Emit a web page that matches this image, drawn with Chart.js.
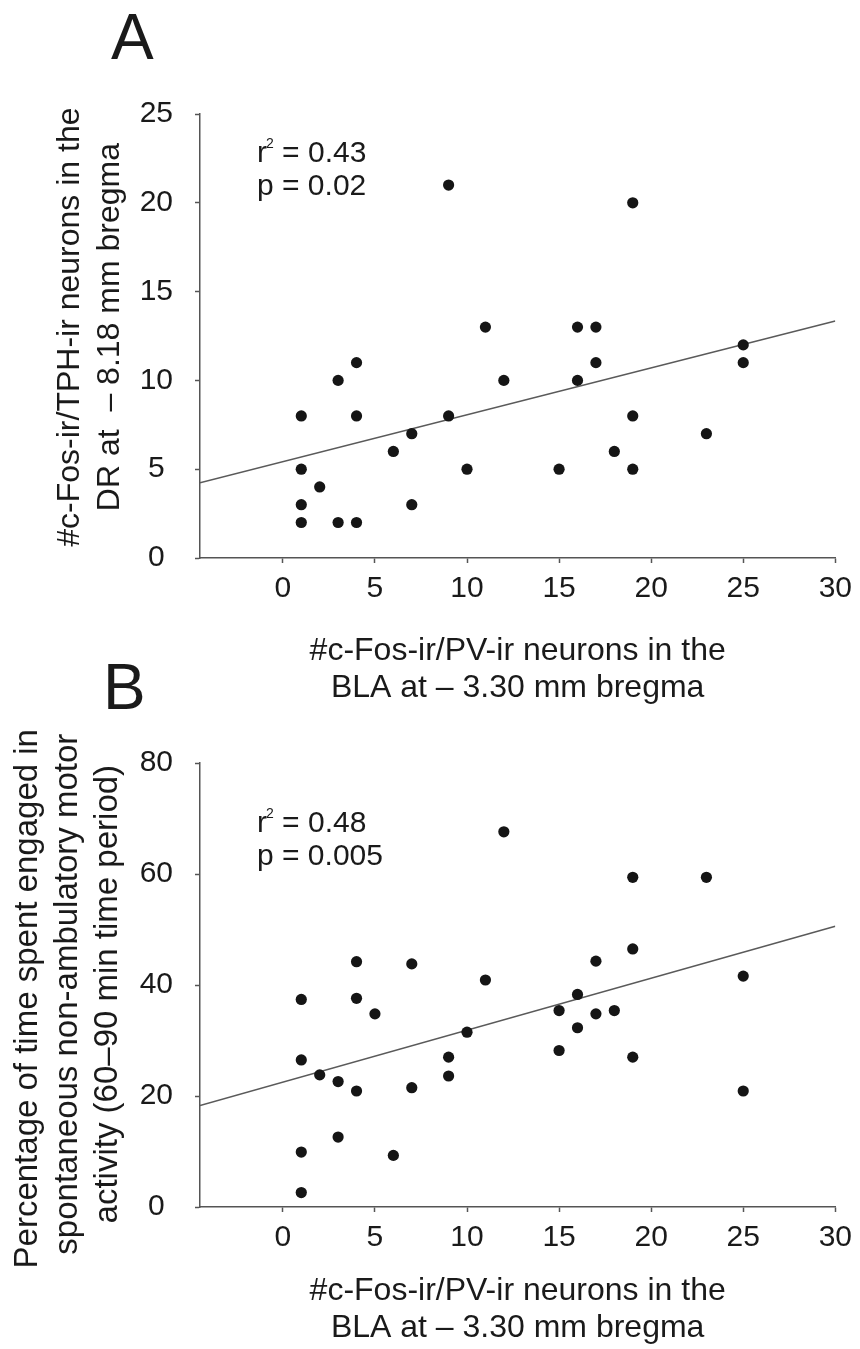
<!DOCTYPE html>
<html>
<head>
<meta charset="utf-8">
<script src="https://cdn.jsdelivr.net/npm/chart.js@4/dist/chart.umd.min.js"></script>
<style>
  html, body { margin: 0; padding: 0; background: #fff; }
  #wrap { position: relative; width: 860px; height: 1349px; overflow: hidden;
          font-family: "Liberation Sans", Arial, sans-serif; color: #1a1a1a; }
  #wrap canvas { position: absolute; left: 0; }
  .panel { position: absolute; font-size: 64px; line-height: 1; }
</style>
</head>
<body>
<div id="wrap">
  <canvas id="chartA" width="860" height="720" style="top:0"></canvas>
  <canvas id="chartB" width="860" height="629" style="top:720px"></canvas>
  <div class="panel" style="left:111px;top:5px">A</div>
  <div class="panel" style="left:103px;top:655px">B</div>
</div>
<script>
// panel A: DR c-Fos/TPH vs BLA c-Fos/PV
const xA = [9, 19, 11, 16, 17, 25, 4, 17, 25, 3, 12, 16, 1, 4, 9, 19, 7, 23, 6, 18, 1, 10, 15, 19, 2, 1, 7, 1, 3, 4];
const yA = [21, 20, 13, 13, 13, 12, 11, 11, 11, 10, 10, 10, 8, 8, 8, 8, 7, 7, 6, 6, 5, 5, 5, 5, 4, 3, 3, 2, 2, 2];
const fitAx = [-4.5, 30];
const fitAy = [4.24, 13.35];

// panel B: % time non-ambulatory motor activity vs BLA c-Fos/PV
const xB = [12, 19, 23, 19, 4, 17, 7, 25, 11, 1, 4, 16, 5, 15, 17, 18, 10, 16, 15, 9, 19, 1, 2, 9, 3, 7, 4, 25, 3, 1, 6, 1];
const yB = [67.6, 59.4, 59.4, 46.5, 44.2, 44.3, 43.8, 41.6, 40.9, 37.4, 37.6, 38.3, 34.8, 35.4, 34.8, 35.4,
            31.5, 32.3, 28.2, 27.0, 27.0, 26.5, 23.8, 23.6, 22.6, 21.5, 20.9, 20.9, 12.6, 9.9, 9.3, 2.6];
const fitBx = [-4.5, 30];
const fitBy = [18.3, 50.6];

const xTicks = [0, 5, 10, 15, 20, 25, 30];
const yTicksA = [0, 5, 10, 15, 20, 25];
const yTicksB = [0, 20, 40, 60, 80];

const NB = '\u00a0';
const xTitle = ['#c-Fos-ir/PV-ir neurons in the', 'BLA at \u2013 3.30 mm bregma'];
// the rotated titles sit a little off the plot centre in the original; pad with spaces to nudge them
const yTitleA = [NB + NB + '#c-Fos-ir/TPH-ir neurons in the', NB + NB + 'DR at  \u2013 8.18 mm bregma'];
const yTitleB = ['Percentage of time spent engaged in' + NB + NB + NB,
                 'spontaneous non-ambulatory motor' + NB + NB,
                 'activity (60\u201390 min time period)' + NB + NB];

const FONT = '"Liberation Sans", Arial, sans-serif';
const INK = '#1a1a1a';
const AXIS = '#555';

// r² / p text in the upper left of the plot
const statsText = {
  id: 'statsText',
  afterDatasetsDraw(chart, args, o) {
    const ctx = chart.ctx, a = chart.chartArea;
    const x = a.left + o.dx, y = a.top + o.dy;
    ctx.save();
    ctx.fillStyle = INK;
    ctx.textAlign = 'left';
    ctx.textBaseline = 'alphabetic';
    ctx.font = '30px ' + FONT;
    ctx.fillText('r', x, y);
    const rw = ctx.measureText('r').width;
    ctx.font = '14px ' + FONT;
    ctx.fillText('2', x + rw - 1, y - 14);
    const sw = ctx.measureText('2').width;
    ctx.font = '30px ' + FONT;
    ctx.fillText(' = ' + o.r2, x + rw + sw - 1, y);
    ctx.fillText('p = ' + o.p, x, y + o.gap);
    ctx.restore();
  }
};

function makeChart(id, xs, ys, fx, fy, yMax, yTicks, yTitle, opt) {
  const pts = xs.map((v, i) => ({ x: v, y: ys[i] }));
  const fit = fx.map((v, i) => ({ x: v, y: fy[i] }));
  return new Chart(document.getElementById(id), {
    type: 'scatter',
    data: {
      datasets: [
        { data: pts, pointRadius: 5.6, pointBackgroundColor: '#151515', pointBorderWidth: 0, showLine: false },
        { type: 'line', data: fit, borderColor: '#5a5a5a', borderWidth: 1.5, pointRadius: 0, fill: false }
      ]
    },
    options: {
      responsive: false,
      animation: false,
      devicePixelRatio: 1,
      layout: { padding: { top: opt.top, right: 22, bottom: 0, left: 0 } },
      plugins: {
        legend: { display: false },
        tooltip: { enabled: false },
        statsText: opt.stats
      },
      scales: {
        x: {
          type: 'linear', min: -4.5, max: 30,
          afterBuildTicks: s => { s.ticks = xTicks.map(v => ({ value: v })); },
          afterFit: s => { s.height = opt.xh; },
          border: { color: AXIS, width: 1.5 },
          grid: { drawOnChartArea: false, tickLength: 5, tickColor: AXIS, tickWidth: 1.5 },
          ticks: { color: INK, font: { family: FONT, size: 30 }, padding: 8, maxRotation: 0, autoSkip: false },
          title: { display: true, text: xTitle, color: INK,
                   font: { family: FONT, size: 32, lineHeight: 1.16 },
                   padding: { top: 0, bottom: opt.xtp } }
        },
        y: {
          type: 'linear', min: 0, max: yMax,
          afterBuildTicks: s => { s.ticks = yTicks.map(v => ({ value: v })); },
          afterFit: s => { s.width = 200; },
          border: { color: AXIS, width: 1.5 },
          grid: { drawOnChartArea: false, tickLength: 5, tickColor: AXIS, tickWidth: 1.5 },
          ticks: { color: INK, font: { family: FONT, size: 30 }, padding: 22, crossAlign: 'center' },
          title: { display: true, text: yTitle, color: INK,
                   font: { family: FONT, size: opt.yfs, lineHeight: opt.ylh },
                   padding: { top: opt.ytp, bottom: 0 } }
        }
      }
    },
    plugins: [statsText]
  });
}

makeChart('chartA', xA, yA, fitAx, fitAy, 25, yTicksA, yTitleA,
  { top: 114, xh: 162, xtp: 13, ytp: 50, yfs: 32, ylh: 1.25,
    stats: { dx: 57, dy: 48, gap: 33, r2: '0.43', p: '0.02' } });

makeChart('chartB', xB, yB, fitBx, fitBy, 80, yTicksB, yTitleB,
  { top: 43, xh: 142, xtp: 2, ytp: 8, yfs: 33, ylh: 1.21,
    stats: { dx: 57, dy: 69, gap: 33, r2: '0.48', p: '0.005' } });
</script>
</body>
</html>
